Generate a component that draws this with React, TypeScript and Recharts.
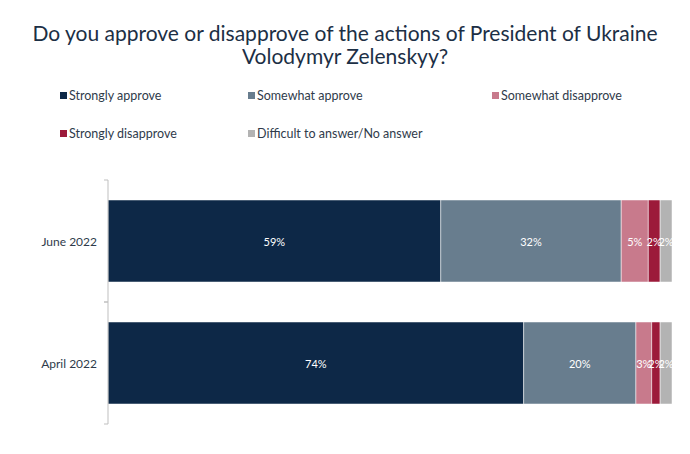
import React from 'react'
import { BarChart, Bar, XAxis, YAxis } from 'recharts'

const periods = ['June 2022', 'April 2022']
// segment widths; labels show the rounded values
const stronglyApprove = [59, 73.7]
const somewhatApprove = [32, 19.9]
const somewhatDisapprove = [4.8, 2.8]
const stronglyDisapprove = [2.1, 1.5]
const noAnswer = [2.1, 2.1]

const seriesNames = [
  'Strongly approve',
  'Somewhat approve',
  'Somewhat disapprove',
  'Strongly disapprove',
  'Difficult to answer/No answer',
]
const seriesColors = ['#0d2847', '#687d8e', '#c87a8c', '#9c1a3a', '#b3b3b3']
const seriesValues = [stronglyApprove, somewhatApprove, somewhatDisapprove, stronglyDisapprove, noAnswer]
const seriesKeys = ['sa', 'wa', 'wd', 'sd', 'na']

const data = periods.map((p, i) => {
  const row: Record<string, string | number> = { period: p }
  seriesKeys.forEach((k, j) => { row[k] = seriesValues[j][i] })
  return row
})

const FONT = 'Lato, "Open Sans", sans-serif'

const legendPos = [
  { x: 60, y: 95 },
  { x: 248, y: 95 },
  { x: 492, y: 95 },
  { x: 60, y: 133 },
  { x: 248, y: 133 },
]

function makeLabel(values: number[]) {
  return (props: any) => {
    const { x, y, width, height, index } = props
    return (
      <text
        x={Number(x) + Number(width) / 2}
        y={Number(y) + Number(height) / 2}
        fill="#ffffff"
        fontSize={11}
        fontFamily={FONT}
        textAnchor="middle"
        dominantBaseline="central"
      >
        {Math.round(values[index])}%
      </text>
    )
  }
}

function PeriodTick(props: any) {
  const { x, y, payload } = props
  const half = payload.offset || 61
  return (
    <g>
      <text x={x - 3} y={y} textAnchor="end" dominantBaseline="central" fill="#2f3b4b" fontSize={12} fontFamily={FONT}>
        {payload.value}
      </text>
      <line x1={x + 4} x2={x + 8} y1={y - half} y2={y - half} stroke="#bfbfbf" />
      <line x1={x + 4} x2={x + 8} y1={y + half} y2={y + half} stroke="#bfbfbf" />
    </g>
  )
}

export default function App() {
  return (
    <div style={{ position: 'absolute', left: 0, top: 0, width: 690, height: 454, background: '#fff', fontFamily: FONT }}>
      <div style={{ position: 'absolute', top: 21, left: 0, width: 690, textAlign: 'center', color: '#1c2f45', fontSize: 21, lineHeight: '23px' }}>
        Do you approve or disapprove of the actions of President of Ukraine
        <br />
        Volodymyr Zelenskyy?
      </div>
      {seriesNames.map((name, i) => (
        <div
          key={name}
          style={{ position: 'absolute', left: legendPos[i].x, top: legendPos[i].y - 8, height: 16, display: 'flex', alignItems: 'center', fontSize: 12.5, color: '#2f3b4b', whiteSpace: 'nowrap' }}
        >
          <span style={{ display: 'inline-block', width: 7, height: 7, background: seriesColors[i], marginRight: 2 }} />
          {name}
        </div>
      ))}
      <div style={{ position: 'absolute', left: 0, top: 0 }}>
        <BarChart
          width={690}
          height={454}
          data={data}
          layout="vertical"
          margin={{ top: 180, right: 18, bottom: 30, left: 0 }}
          barSize={82}
        >
          <XAxis type="number" hide domain={[0, 100]} allowDataOverflow />
          <YAxis
            type="category"
            dataKey="period"
            width={108}
            axisLine={{ stroke: '#bfbfbf' }}
            tickLine={false}
            tick={<PeriodTick />}
          />
          {seriesKeys.map((k, i) => (
            <Bar
              key={k}
              dataKey={k}
              stackId="a"
              fill={seriesColors[i]}
              stroke="#ffffff"
              strokeWidth={0.5}
              isAnimationActive={false}
              label={makeLabel(seriesValues[i])}
            />
          ))}
        </BarChart>
      </div>
    </div>
  )
}
